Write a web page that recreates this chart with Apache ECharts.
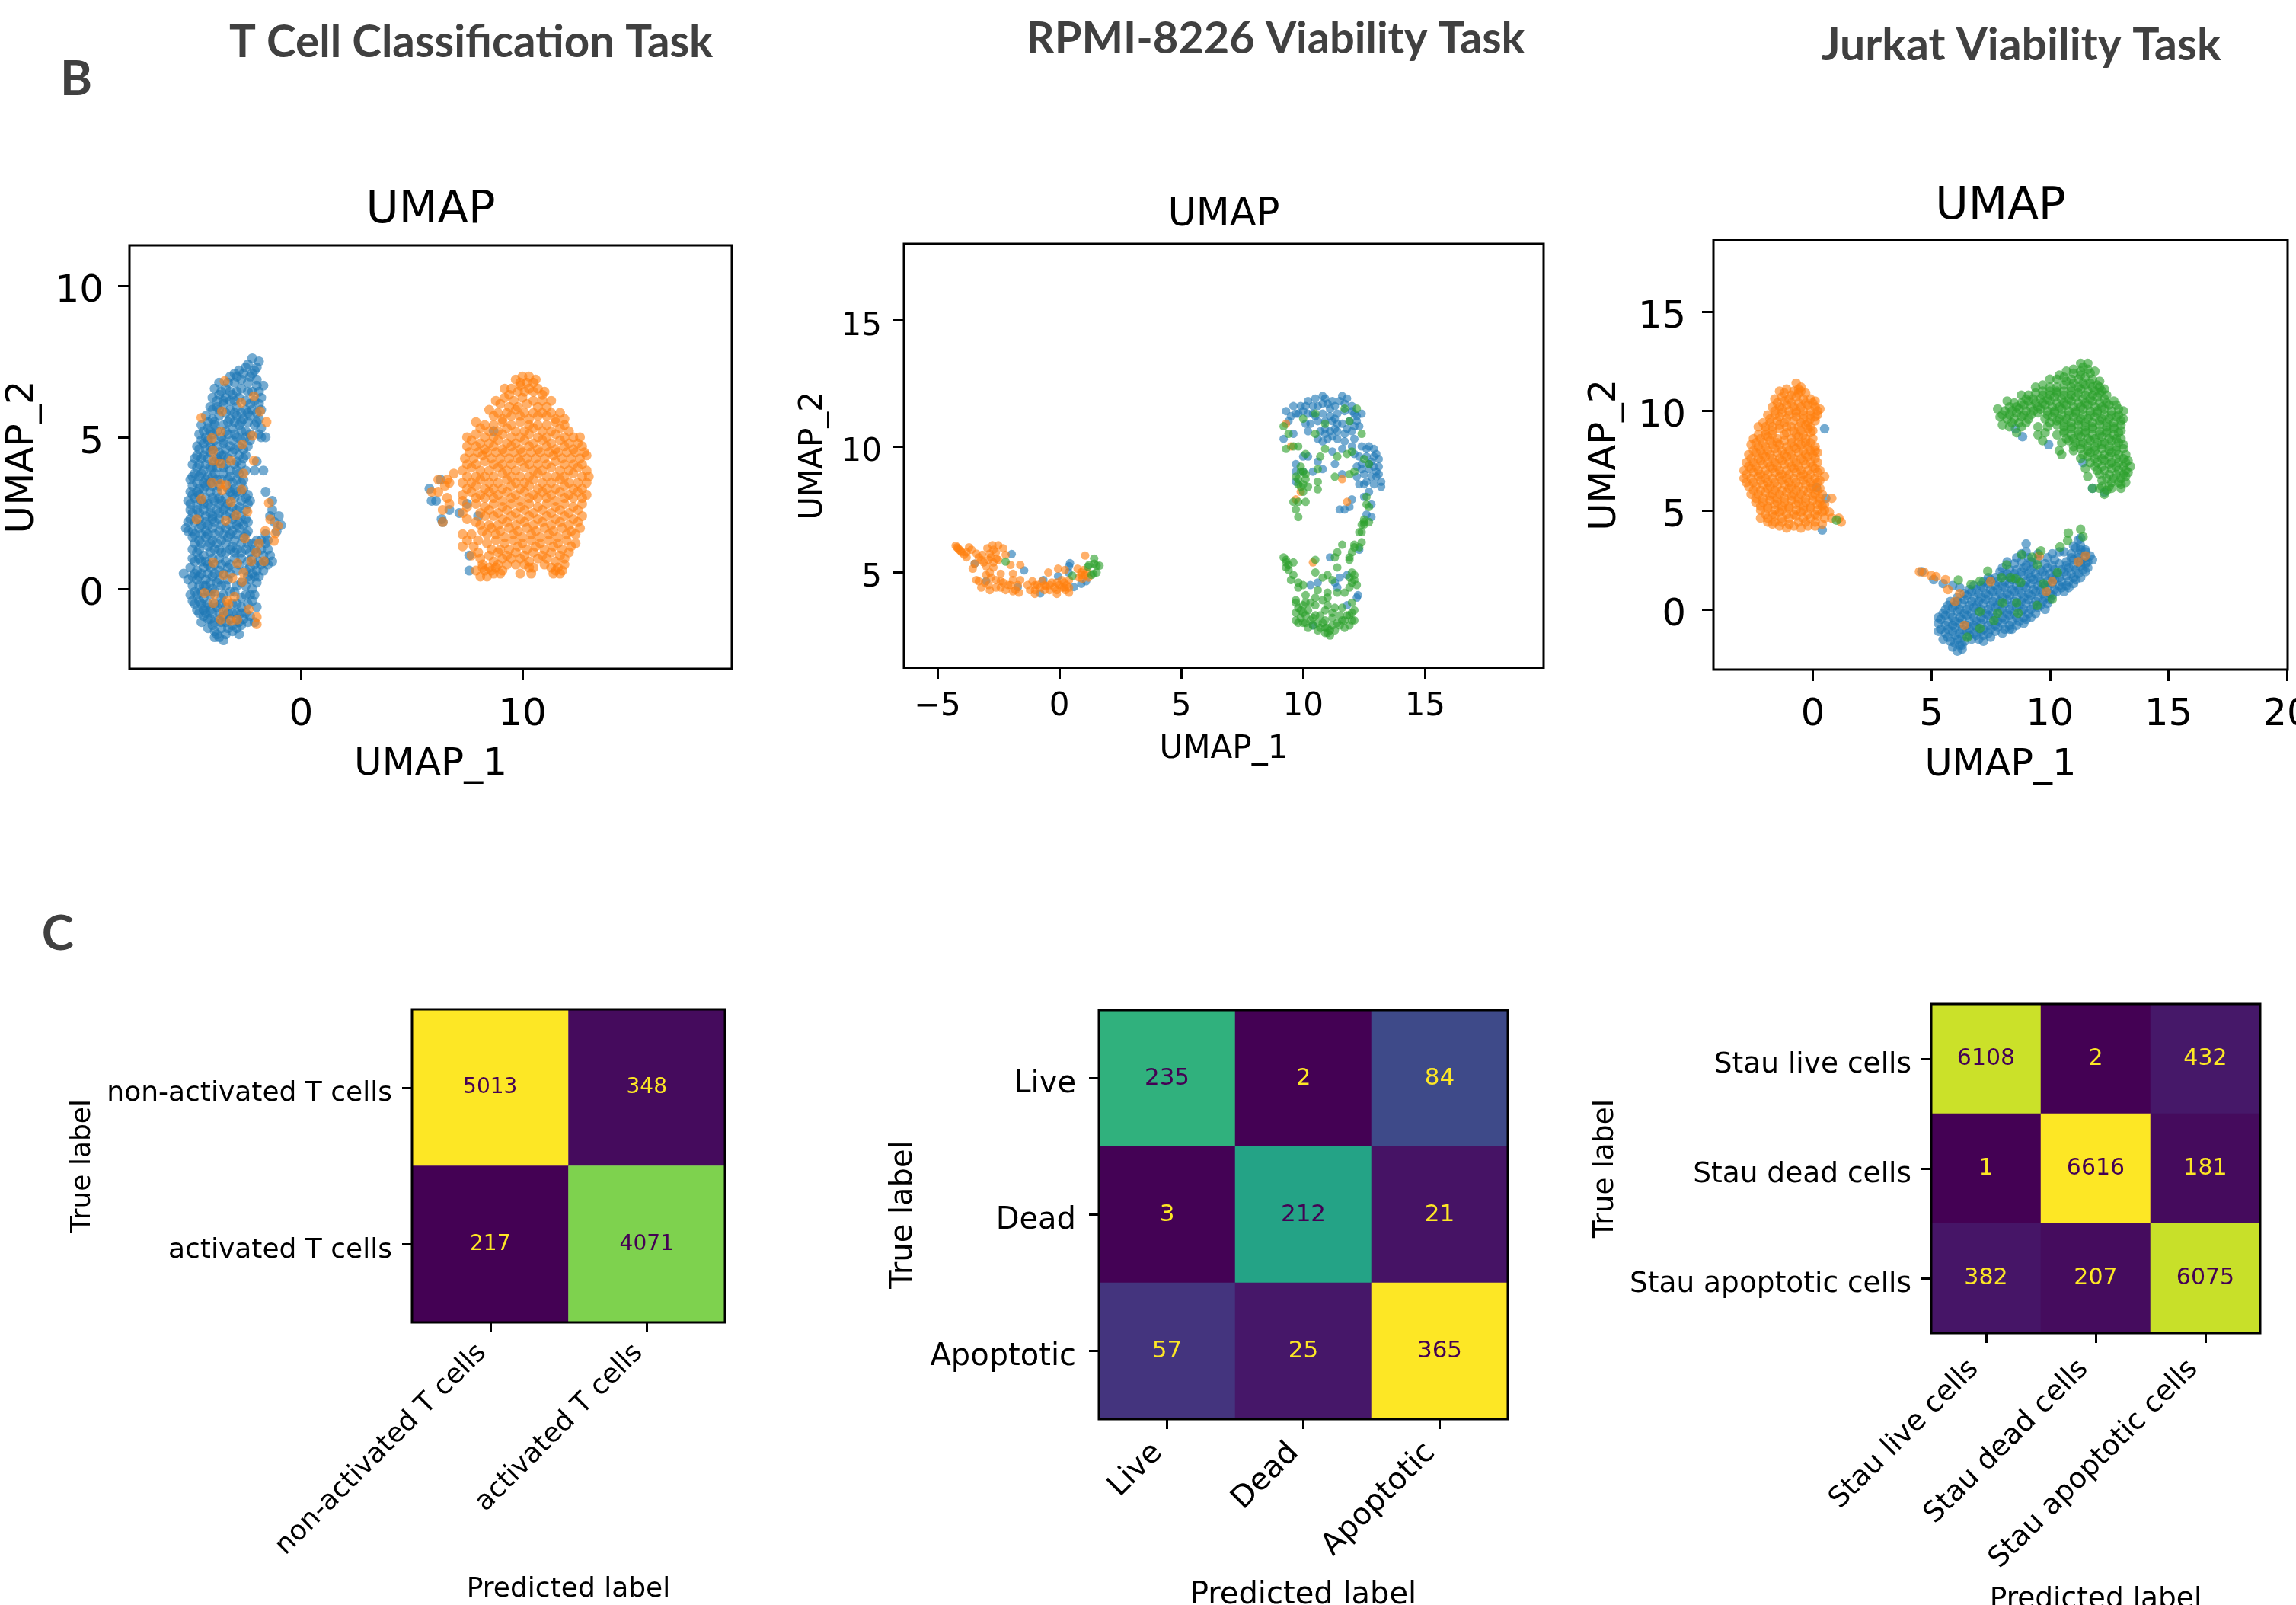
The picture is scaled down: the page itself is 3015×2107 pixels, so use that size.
<!DOCTYPE html>
<html><head><meta charset="utf-8"><style>html,body{margin:0;background:#fff}#c{width:3015px;height:2107px}</style>
<script src="https://cdn.jsdelivr.net/npm/echarts@6/dist/echarts.min.js"></script></head>
<body><div id="c"></div><script>
// ---- values: flat x,y lists ----
const tcellBlue=[-2.2,7.6,-1.9,7.5,-2.4,7.4,-2,7.3,-2.8,7.2,-2.6,7.1,-3.2,7,-2.9,7,-2.3,7,-2,6.9,-1.7,6.7,-2,6.7,-3.7,6.8,-3.4,6.6,-3.9,6.6,-3,6.8,-2.4,6.8,-2.7,6.6,-2.2,6.5,-4,6.3,-3.7,6.4,-3.4,6.3,-3.1,6.4,-2.8,6.3,-2.5,6.2,-2.1,6.2,-1.8,6.3,-4.1,6,-3.8,6,-3.5,6.1,-3.2,5.9,-2.9,6,-2.5,5.9,-2.2,5.9,-1.8,5.9,-4.3,5.7,-4,5.6,-3.7,5.7,-3.2,5.6,-2.9,5.7,-2.6,5.6,-2.3,5.7,-1.9,5.6,-4.5,5.4,-4.2,5.3,-3.9,5.4,-3.5,5.4,-3.1,5.3,-2.8,5.4,-2.5,5.2,-2.1,5.4,-1.8,5.3,-4.6,5.1,-4.3,5,-4,5.1,-3.6,5,-3.3,5.1,-2.9,5,-2.5,5,-1.9,5.1,-1.6,5,-4.7,4.7,-4.4,4.8,-4.1,4.7,-3.8,4.7,-3.5,4.8,-3.2,4.7,-2.8,4.7,-2.4,4.7,-4.7,4.4,-4.4,4.4,-4.1,4.5,-3.8,4.3,-3.5,4.4,-3.1,4.5,-2.8,4.4,-2.5,4.4,-4.9,4.1,-4.6,4.1,-4.3,4.1,-4,4,-3.7,4.2,-3.4,4.1,-3,4.1,-2.7,4.1,-2,4.2,-4.8,3.8,-4.5,3.8,-4.2,3.7,-3.9,3.8,-3.5,3.8,-3.2,3.7,-2.8,3.8,-2.5,3.9,-1.7,3.9,-2.1,3.9,-5,3.6,-4.7,3.5,-4.4,3.5,-4.1,3.5,-3.8,3.6,-3.1,3.5,-2.7,3.5,-5,3.2,-4.7,3.2,-4.4,3.3,-4.1,3.2,-3.8,3.2,-3.2,3.2,-2.9,3.2,-2.6,3.3,-2.4,3.1,-5.1,2.9,-4.8,3,-4.5,2.9,-4.2,2.8,-3.9,2.9,-3.6,2.9,-3.3,2.8,-3,3,-2.7,2.9,-2.3,2.9,-1.6,3.2,-1.3,2.9,-5,2.6,-4.7,2.6,-4.4,2.6,-4.1,2.5,-3.8,2.6,-3.5,2.6,-3.2,2.5,-2.9,2.6,-2.5,2.6,-1.3,2.6,-1,2.4,-5,2.3,-4.6,2.3,-4.3,2.2,-4,2.3,-3.7,2.3,-3.1,2.3,-2.8,2.2,-2.5,2.3,-1.2,2.2,-1.4,2.4,-0.9,2.1,-5.2,2,-4.9,1.9,-4.6,2,-4.3,1.9,-4,2,-3.7,1.9,-3.4,2,-3.1,1.9,-2.8,2,-2.4,1.9,-1.1,1.9,-1.6,1.8,-4.9,1.7,-4.6,1.6,-4.3,1.7,-4,1.6,-3.6,1.6,-3.3,1.7,-3,1.6,-2.6,1.7,-2.2,1.5,-1.6,1.5,-4.9,1.3,-4.6,1.3,-4.2,1.4,-3.9,1.3,-3.6,1.2,-3.2,1.3,-2.9,1.3,-2.5,1.3,-2.1,1.3,-1.8,1.3,-1.5,1.3,-4.9,1,-4.6,1,-4.3,.9,-4,1,-3.7,1,-3.4,.9,-3,1,-2.7,1,-2.2,1,-1.9,.9,-1.6,.9,-1.3,.9,-5,.7,-4.7,.6,-4.4,.7,-4.1,.7,-3.7,.6,-3.3,.7,-2.9,.6,-2.3,.7,-2,.6,-1.7,.6,-5.3,.5,-4.9,.4,-4.6,.4,-4.3,.3,-4,.4,-3.7,.3,-3.3,.3,-2.4,.4,-2.1,.4,-4.9,.1,-4.6,.1,-4.3,.1,-4,0,-3.6,.1,-2.9,.1,-2.5,.1,-2.2,0,-2,.2,-5,-.2,-4.7,-.2,-4.4,-.3,-4.1,-.2,-3.5,-.2,-3.2,-.1,-2.7,-.3,-2.3,-.2,-4.8,-.5,-4.5,-.5,-4.2,-.5,-3.6,-.5,-3.1,-.5,-2.7,-.6,-2.4,-.5,-2,-.6,-4.6,-.8,-4.3,-.8,-4,-.8,-3.7,-.8,-3.3,-.8,-2.9,-.8,-2.5,-.8,-4.5,-1.1,-4.2,-1,-3.9,-1.1,-3.4,-1.1,-2.8,-1.1,-2.1,-1.1,-4.2,-1.3,-3.9,-1.4,-3.6,-1.3,-3.3,-1.3,-2.9,-1.3,-2.8,-1.5,-3.7,-1.6,-3.5,-1.7,-3.9,-1.6,
5.8,3.3,5.9,2.9,6.1,2.9,6.4,2.2,6.35,2.3,6.7,2.6,6.3,3.6,7.15,2.5,7.5,2.8,8,2.4,7.6,1.1,7.6,.6,8.7,5.2,
-2.1,7.2,-2.5,7.3,-2.2,7.1,-3,7.1,-2.7,6.9,-3.3,6.8,-1.9,6.5,-3.6,6.5,-2.9,6.5,-3.2,6.5,-2.4,6.5,-3.8,6.2,-3.5,6.2,-3.2,6.2,-3,6.2,-2.3,6.1,-1.9,6.1,-4,5.9,-3.7,5.9,-3.4,5.8,-3,5.8,-2.7,5.8,-2.4,5.8,-2,5.8,-4.2,5.5,-3.9,5.5,-3.3,5.5,-3,5.5,-2.7,5.5,-2.4,5.5,-2,5.5,-4.4,5.2,-4.1,5.2,-3.8,5.2,-3.4,5.2,-3,5.1,-2.7,5.2,-2.3,5.1,-1.8,5,-4.5,4.9,-4.2,4.9,-3.9,4.9,-3.5,4.9,-3.1,4.9,-2.7,4.9,-2.3,4.9,-4.6,4.6,-4.3,4.6,-4,4.6,-3.7,4.5,-3.4,4.6,-3,4.6,-2.6,4.6,-4.8,4.3,-4.5,4.3,-4.2,4.3,-3.9,4.2,-3.6,4.4,-3.3,4.3,-2.9,4.2,-2.6,4.3,-4.7,4,-4.4,3.9,-4.1,4,-3.8,4,-3.5,4,-3.2,3.9,-2.9,3.9,-4.9,3.7,-4.6,3.7,-4.3,3.6,-4,3.7,-3.6,3.6,-3.3,3.6,-2.9,3.6,-2.6,3.6,-4.9,3.4,-4.6,3.3,-4.3,3.4,-4,3.4,-3.7,3.4,-3.3,3.3,-3,3.3,-2.7,3.2,-4.9,3.1,-4.6,3.1,-4.3,3,-4,3,-3.7,3,-3.4,3,-3.1,3.1,-2.5,3,-5,2.8,-4.7,2.8,-4.4,2.8,-4.1,2.7,-3.7,2.8,-3.4,2.7,-3.1,2.7,-2.8,2.7,-2.4,2.8,-4.9,2.5,-4.6,2.5,-4.3,2.4,-4,2.4,-3.7,2.5,-3.4,2.4,-3,2.4,-2.7,2.4,-5.1,2.2,-4.8,2.2,-4.5,2.1,-4.2,2.1,-3.9,2.2,-3.6,2.1,-3.2,2.1,-2.9,2.1,-2.6,2.1,-2.4,2.2,-5.1,1.9,-4.8,1.8,-4.5,1.8,-4.2,1.8,-3.9,1.8,-3.5,1.8,-3.2,1.8,-2.9,1.8,-2.5,1.8,-4.8,1.5,-4.5,1.5,-4.1,1.5,-3.8,1.5,-3.4,1.5,-3.1,1.4,-2.7,1.5,-2.4,1.5,-2,1.6,-1.8,1.6,-1.5,1.6,-4.7,1.2,-4.4,1.1,-4.1,1.2,-3.7,1.3,-3.4,1.2,-3,1.2,-2.7,1.2,-2.3,1.2,-2,1.2,-1.7,1.1,-1.4,1.1,-4.8,.9,-4.5,.9,-4.2,.8,-3.9,.8,-3.6,.8,-3.2,.8,-2.8,.8,-2.4,.9,-2.1,.8,-1.8,.8,-1.5,.8,-4.8,.5,-4.5,.5,-4.2,.5,-3.9,.5,-3.5,.5,-3.2,.5,-2.5,.6,-2.2,.5,-1.9,.4,-5.1,.3,-4.7,.3,-4.4,.1,-4.1,.2,-3.8,.2,-3.4,.1,-2.7,.2,-2.3,.3,-4.8,-.1,-4.5,-.1,-4.2,-.1,-3.9,-.1,-3.6,-.3,-3,-.1,-2.5,-.2,-2.1,-.2,-4.9,-.4,-4.6,-.4,-4.3,-.6,-3.9,-.5,-3.4,-.6,-2.9,-.5,-2.2,-.4,-4.7,-.7,-4.4,-.7,-4.1,-.7,-3.8,-.6,-3.5,-.9,-3.1,-.8,-2.7,-.8,-2.3,-.9,-4.4,-.9,-4.1,-1,-3.7,-1,-3.2,-1,-2.9,-1,-2.6,-1,-2.4,-1.1,-4,-1.2,-3.6,-1.1,-3.1,-1.2,-2.7,-1.2,-3.8,-1.5,-3.4,-1.5,-3.1,-1.4];
const tcellOrange=[9.7,6.9,10,7,10.3,7,10.6,6.9,9.2,6.6,9.5,6.6,9.9,6.7,10.3,6.6,10.7,6.6,11,6.5,8.8,6.2,9.2,6.3,9.6,6.2,10,6.3,10.5,6.2,10.9,6.2,11.3,6.2,8.5,5.9,8.9,5.8,9.3,5.8,9.7,5.9,10.1,5.8,10.5,5.8,10.9,5.8,11.3,5.8,11.7,5.8,7.9,5.5,8.3,5.4,8.7,5.4,9.1,5.5,9.5,5.4,9.9,5.5,10.3,5.4,10.7,5.4,11.1,5.4,11.5,5.5,11.9,5.4,7.5,5,7.9,5.1,8.3,5,8.7,5,9.1,5.1,9.5,5,9.9,5,10.3,5.1,10.7,5,11.1,5,11.5,5.1,11.9,5,12.3,5,12.6,5,7.5,4.7,7.9,4.7,8.3,4.6,8.7,4.7,9.1,4.6,9.5,4.7,9.9,4.6,10.3,4.7,10.7,4.6,11.1,4.7,11.5,4.6,11.9,4.7,12.3,4.6,12.7,4.7,7.4,4.3,7.8,4.3,8.2,4.4,8.6,4.3,9,4.3,9.4,4.3,9.8,4.3,10.2,4.3,10.6,4.3,11,4.3,11.4,4.4,11.8,4.3,12.2,4.3,12.6,4.3,12.9,4.4,7.3,3.9,7.7,4,8.1,3.9,8.5,3.9,8.9,4,9.3,3.9,9.7,3.9,10.1,4,10.5,3.9,10.9,3.9,11.3,4,11.7,3.9,12.1,3.9,12.5,4,12.9,3.9,13,3.7,7.3,3.5,7.7,3.5,8.1,3.6,8.5,3.5,8.9,3.5,9.3,3.6,9.7,3.5,10.1,3.5,10.5,3.6,10.9,3.5,11.3,3.5,11.7,3.6,12.1,3.5,12.5,3.5,12.9,3.5,7.3,3.1,7.7,3.2,8.1,3.1,8.5,3.2,8.9,3.1,9.3,3.2,9.7,3.1,10.1,3.2,10.5,3.1,10.9,3.2,11.3,3.1,11.7,3.2,12.1,3.1,12.5,3.2,12.9,3.1,7.5,2.7,7.9,2.8,8.3,2.7,8.7,2.8,9.1,2.7,9.5,2.8,9.9,2.7,10.3,2.8,10.7,2.7,11.1,2.8,11.5,2.7,11.9,2.8,12.3,2.7,12.7,2.8,7.5,2.3,7.9,2.2,8.3,2.4,8.7,2.4,9.1,2.3,9.5,2.4,9.9,2.3,10.3,2.4,10.7,2.3,11.1,2.4,11.5,2.3,11.9,2.4,12.3,2.3,12.7,2.4,7.3,1.8,7.7,1.8,8.2,1.9,8.6,2,9,1.9,9.4,2,9.8,1.9,10.2,2,10.6,1.9,11,2,11.4,1.9,11.8,2,12.2,1.9,12.6,2,7.3,1.4,7.8,1.4,8.4,1.5,8.8,1.6,9.2,1.5,9.6,1.6,10,1.5,10.4,1.6,10.8,1.5,11.2,1.6,11.6,1.5,12,1.6,12.4,1.5,7.7,1.1,8.1,1,8.5,1.1,8.9,1.2,9.3,1.1,9.7,1.2,10.1,1.1,10.5,1.2,10.9,1.1,11.3,1.2,11.7,1.1,12.1,1.2,7.9,.6,8.2,.7,8.5,.7,8.9,.8,9.3,.8,9.7,.8,10.1,.8,10.5,.7,11,.8,11.3,.7,11.6,.7,11.9,.8,8.1,.4,8.4,.4,8.7,.5,9,.5,9.9,.5,10.4,.5,11.4,.5,11.7,.5,6.2,3.6,6.6,3.6,6.9,3.8,6.7,3.5,6.2,3.2,6.6,3,5.9,3.2,6.4,2.6,6.7,2.8,6.5,3.4,6.4,2.2,
9.9,6.8,10.2,6.8,10.5,6.8,9.4,6.4,9.8,6.5,10.1,6.5,10.5,6.5,10.9,6.4,9,6.1,9.4,6,9.8,6,10.2,6.1,10.7,6,11.1,6,8.7,5.7,9.1,5.6,9.5,5.7,9.9,5.7,10.3,5.6,10.7,5.7,11.1,5.7,11.5,5.6,11.9,5.6,8.1,5.3,8.5,5.2,8.9,5.2,9.3,5.3,9.7,5.2,10.1,5.2,10.5,5.3,10.9,5.2,11.3,5.2,11.7,5.3,12.1,5.2,7.7,4.9,8.1,4.8,8.5,4.8,8.9,4.9,9.3,4.8,9.7,4.8,10.1,4.9,10.5,4.8,10.9,4.9,11.3,4.8,11.7,4.9,12.1,4.8,12.5,4.8,7.6,4.5,8,4.5,8.4,4.5,8.8,4.5,9.2,4.5,9.6,4.5,10,4.5,10.4,4.5,10.8,4.5,11.2,4.5,11.6,4.5,12,4.5,12.4,4.5,12.8,4.5,7.5,4.1,7.9,4.1,8.3,4.2,8.7,4.1,9.1,4.1,9.5,4.1,9.9,4.2,10.3,4.1,10.7,4.1,11.1,4.1,11.5,4.2,11.9,4.1,12.3,4.1,12.7,4.1,7.5,3.7,7.9,3.7,8.3,3.7,8.7,3.7,9.1,3.8,9.5,3.7,9.9,3.7,10.3,3.7,10.7,3.8,11.1,3.7,11.5,3.7,11.9,3.7,12.3,3.8,12.7,3.7,7.5,3.3,7.9,3.4,8.3,3.3,8.7,3.3,9.1,3.3,9.5,3.4,9.9,3.3,10.3,3.4,10.7,3.3,11.1,3.3,11.5,3.3,11.9,3.4,12.3,3.3,12.7,3.3,7.3,2.9,7.9,3,8.3,3,8.7,3,9.1,2.9,9.5,3,9.9,2.9,10.3,3,10.7,3,11.1,3,11.5,2.9,11.9,3,12.3,3,12.7,3,7.3,2.5,8.1,2.5,8.5,2.6,8.9,2.5,9.3,2.6,9.7,2.5,10.1,2.6,10.5,2.5,10.9,2.6,11.3,2.5,11.7,2.6,12.1,2.5,12.5,2.6,8.1,2.1,8.5,2.1,8.9,2.1,9.3,2.2,9.7,2.1,10.1,2.2,10.5,2.1,10.9,2.2,11.3,2.1,11.7,2.2,12.1,2.1,12.5,2.2,7.5,1.6,8,1.6,8.4,1.8,8.8,1.8,9.2,1.7,9.6,1.8,10,1.7,10.4,1.8,10.8,1.7,11.2,1.8,11.6,1.7,12,1.8,12.4,1.8,8,1.2,8.6,1.3,9,1.3,9.4,1.3,9.8,1.4,10.2,1.3,10.6,1.4,11,1.3,11.4,1.4,11.8,1.3,12.2,1.4,8.2,.8,8.7,.9,9.1,1,9.5,1,9.9,1,10.3,.9,10.7,1,11.1,1,11.5,.9,11.9,1,8.3,.6,8.6,.6,8.8,.7,9.1,.6,10.3,.7,11.5,.6,11.8,.6,
-3.45,6.85,-2.7,6.14,-2.13,6.35,-1.85,5.85,-1.56,5.5,-3.57,5.85,-4.5,5.64,-4.03,4.97,-3.63,5.18,-2.2,5.05,-2.65,4.76,-3.97,4.55,-3.17,4.22,-3.97,4.22,-3.63,4.13,-2.6,3.8,-2.13,4.22,-4.03,3.5,-3.63,3.46,-3.4,3.42,-3.57,3.25,-2.68,3.27,-4.5,2.96,-3.17,2.86,-1.45,2.83,-4.72,2.29,-3.4,2.25,-2.42,2.54,-2.94,2.42,-1.39,2.29,-1.05,2.08,-1.62,1.91,-1.16,1.83,-2.54,1.66,-1.9,1.5,-1.22,1.58,-2.02,1.2,-1.68,.91,-2.25,.91,-2.88,.84,-3.97,.87,-3.5,.45,-3.1,.36,-2.65,.24,-2.6,.53,-4.37,-.14,-3.91,-.18,-3,-.26,-3.34,-.39,-3.97,-.47,-3.28,-.51,-3.5,-.77,-2.36,-.68,-2,-.93,-3.63,-1.02,-3.17,-1.06,-2.88,-1.02,-2,-1.17];
const rpmiBlue=[9.3,11.4,9.6,11.6,9.9,11.6,10.2,11.8,10.5,11.9,10.8,12,10.9,11.9,11.2,11.8,11.5,11.8,11.6,12,11.8,11.9,12,11.6,12.4,11.3,12.1,11.3,11.7,11.4,11.4,11.3,11.1,11.5,10.8,11.7,10.4,11.6,10.2,11.3,10.3,10.9,10.6,11,10.9,11,11.2,11,11.4,10.9,11.6,10.9,11.9,11,12.2,11,12.3,10.8,12,10.6,11.7,10.5,11.4,10.6,11.1,10.6,10.7,10.6,10.2,10.6,9.2,10.3,9.6,10.5,12.1,10.3,12,10,11.7,10.2,11.4,10.3,11,10.3,10.8,10.2,12.4,10,12.7,10,12.9,9.9,13,9.7,13.1,9.5,13.1,9.2,12.8,9.4,12.6,9.6,12.3,9.6,12.2,9.2,12.4,9.3,12.7,9.1,13,9,13,8.8,13.2,8.6,13.2,8.4,12.9,8.5,12.6,8.6,12.3,8.5,12.2,8.8,12.5,8.9,12.8,8.8,12.7,8.2,9.7,9.3,10,9.6,10.2,9.6,10.6,9.4,10.8,9.1,10.4,9,10,9,9.7,9,9.7,8.6,11.3,9.3,11.6,8.9,11.2,9.8,11.6,9.9,12.1,9.7,11.5,7.5,11.7,7.5,11.9,7.6,12,7.9,12.5,8,12.8,7.7,12.8,7.2,12.6,7.3,12.3,5.9,12.25,4.1,12.2,4,11.4,4.4,11.3,4.6,10.6,4.6,10.3,4.5,11.5,4.8,11.8,4.9,11.8,3.7,10.4,2.9,11.1,5.6,
9.5,11.2,9.8,11.3,10,11.4,10.4,11.3,10.6,11.6,11,11.7,11.3,11.6,11.7,11.7,12,11.4,12.2,11.2,10.5,11.2,10.8,11.3,11.1,11.2,11.3,11.1,10.1,10.9,10.9,10.7,11.3,10.7,11.8,10.7,12.1,10.8,10.6,10.3,10.9,10.5,11.2,10.4,12.6,9.9,12.9,9.6,12.7,9.3,12.4,9.1,12.9,9.2,12.5,8.5,13.1,8.9,9.4,11,9.7,11.3,10.1,11.6,
-1.95,5.73,-1.44,5.08,-1.7,4.42,-3,4.66,-3.47,5.35,.44,5.37,.4,5.25,.38,5,-.05,4.85,.6,4.42,.9,4.55,1.1,4.65,-.65,4.7,-.78,4.17];
const rpmiOrange=[-4.25,6.06,-4.15,5.96,-4.04,5.85,-3.9,5.7,-3.7,6,-3.8,5.6,-3.4,5.75,-3.16,5.7,-2.95,5.96,-2.74,6.08,-2.5,6.08,-2.3,5.96,-2.2,5.7,-2.58,5.55,-2.85,5.75,-3.2,5.5,-3.47,5.35,-3.55,5.15,-3,5.25,-2.85,5,-3.3,4.65,-3.4,4.7,-3.05,4.6,-2.85,4.3,-2.4,4.95,-2.4,4.65,-2.6,4.7,-2.4,4.4,-2.1,4.5,-1.9,4.25,-2,5.3,-1.6,5.3,-1.9,4.95,-1.65,4.2,-1.9,4.7,-1.6,4.7,-1.3,4.5,-1.1,4.65,-1,4.3,-.9,4.5,-.7,4.65,-.55,4.45,-.4,4.3,-.1,4.6,-.1,4.3,-.1,4.15,.2,4.6,.25,4.3,.4,4.2,-.45,5,-.05,5.15,.4,4.7,1.06,5.67,.75,5.15,.9,5,.8,4.8,1.2,4.8,1.05,4.9,.23,5.1,-1,4.15,-1.2,4.3,-4.2,6,-4.1,5.9,-2.7,5.4,-2.9,5.5,-.6,4.3,.1,4.4,
-4,5.8,-3.8,5.8,-3.6,5.9,-3.3,5.6,-3.1,5.4,-2.7,5.9,-2.6,5.8,-2.8,5.6,-2.5,5.5,-2.7,5.2,-3,4.9,-2.8,4.8,-3.2,4.4,-2.9,4.5,-2.6,4.4,-2.3,4.6,-2.2,4.3,-2,4.5,-1.7,4.5,-1.8,4.3,-1,4.5,-.8,4.4,-.6,4.5,-.4,4.5,-.3,4.6,-.2,4.4,0,4.5,.1,4.7,.2,4.4,.3,4.5,.4,4.4,.9,4.9,1,5.1,.95,4.75,1.15,5,
9.5,10,9.9,8.2,9.7,7.9,11.6,8.7,11.8,7.8,10.4,5.4,9.3,10.9];
const rpmiGreen=[10,11.1,10.5,11.3,10.9,10.9,11.7,11.5,12.2,11.5,11.9,11,12.4,10.5,10.5,10.5,9.2,10.8,9.4,10.5,9.8,10,9.3,9.9,9.6,10,10.9,9.9,11.4,9.6,11.8,9.7,12,9.8,10.7,9.6,10.1,9.7,9.9,9.2,10,9,9.7,8.8,9.8,8.5,10.1,8.7,10.2,8.4,9.9,8.4,10,8.2,10.6,8.6,10.6,9.1,10.6,8.3,9.8,7.8,10.1,7.8,9.7,7.5,9.8,7.2,11.3,8.8,11.9,8.9,12.1,9,12.5,9.5,12.7,9.3,12.6,8,12.6,7.7,12.7,7.6,12.5,7,12.7,7,12.4,6.9,12.4,6.6,12.3,6.6,12.4,6.2,12.3,6,12.1,6,11.6,6.1,11.4,5.8,11.3,5.6,11.9,5.6,12,5.8,11.9,5.5,9.2,5.6,9.3,5.4,9.3,5.2,9.4,5.1,9.6,5.4,9.6,4.9,9.5,4.7,10.5,5.5,10.5,5,11.4,5.2,11,4.9,10.8,4.8,11.2,4.7,12,5,12.1,4.9,12,4.6,12.2,4.5,11.9,4.8,9.8,4.4,10,4.5,9.7,3.9,9.7,3.8,10.1,3.8,10.5,4,10.6,4.3,11,4.2,11.4,4.2,11.7,4.2,11,3.7,10.9,3.5,11.6,3.6,12,3.8,12,3.4,12.1,3.1,9.7,3.4,9.7,3.1,9.9,3.2,10.1,3,10.1,3.3,10.5,3.3,10.6,3,10.7,2.8,10.9,2.6,11,2.6,11.1,2.5,11.3,2.7,11.5,2.9,11.7,2.8,11.9,2.9,12,3.1,11.8,3.3,11.5,3.3,11.2,3.2,10.9,3.1,10.4,2.9,10.2,2.8,11.3,3.6,11.2,3.4,11.6,3.1,10.5,3.7,10,3.7,
9.9,3.5,10.2,3.5,10.4,3.2,10.7,3.3,10.8,3,11,2.8,11.2,2.9,11.4,3,11.7,3.1,11.9,3.3,12.1,3.5,9.8,3.6,10,3.4,10.3,3.1,10.6,2.7,11.1,2.7,10.9,2.8,9.8,3,10,3,10.3,3.8,10.8,3.9,11,4,10.1,4.1,9.8,4.6,11.9,4.4,12.1,4.7,9.9,9,10.1,8.9,9.8,8.7,10,8.5,9.6,7.8,12.5,6.9,12.5,7.1,12.1,6.1,9.4,5.3,9.3,5.5,
-2.2,5.43,.54,4.87,1.43,5.55,1.53,5.27,1.65,5.27,1.17,5.23,1.4,4.95,1.53,5,1.32,4.9,1.22,5.3,1.43,5.35];
const jurkatBlue=[5.9,-1.9,6.1,-2.1,6.3,-2,6.2,-1.8,5.5,-1.5,5.8,-1.6,6.1,-1.5,6.4,-1.6,6.7,-1.5,7,-1.5,7.2,-1.6,5.3,-1.1,5.6,-1.2,5.9,-1.1,6.2,-1.2,6.5,-1.1,6.8,-1.2,7.1,-1.1,7.4,-1.2,7.7,-1.1,8,-1.2,8.3,-1,5.3,-.7,5.6,-.8,5.9,-.8,6.2,-.7,6.5,-.8,6.8,-.8,7.1,-.7,7.4,-.8,7.7,-.8,8,-.7,8.3,-.8,8.6,-.8,8.9,-.7,5.3,-.4,5.6,-.3,5.9,-.4,6.2,-.4,6.5,-.3,6.8,-.4,7.1,-.4,7.4,-.3,7.7,-.4,8,-.4,8.3,-.3,8.6,-.4,8.9,-.4,9.2,-.4,5.6,0,5.9,.1,6.2,0,6.5,0,6.8,.1,7.1,0,7.4,0,7.7,.1,8,0,8.3,0,8.6,.1,8.9,0,9.2,0,9.5,.1,9.8,0,5.8,.4,6.1,.4,6.4,.5,6.7,.4,7,.4,7.3,.5,7.6,.4,7.9,.4,8.2,.5,8.5,.4,8.8,.4,9.1,.5,9.4,.4,9.7,.4,10,.5,6.4,.8,6.7,.9,7,.8,7.3,.8,7.6,.9,7.9,.8,8.2,.8,8.5,.9,8.8,.8,9.1,.8,9.4,.9,9.7,.8,10,.8,10.3,.9,10.6,.9,6.8,1.2,7.1,1.2,7.4,1.3,7.7,1.2,8,1.2,8.3,1.3,8.6,1.2,8.9,1.2,9.2,1.3,9.5,1.2,9.8,1.2,10.1,1.3,10.4,1.2,10.7,1.2,11,1.3,7.4,1.6,7.7,1.6,8,1.7,8.3,1.6,8.6,1.6,8.9,1.7,9.2,1.6,9.5,1.6,9.8,1.7,10.1,1.6,10.4,1.6,10.7,1.7,11,1.6,11.3,1.6,8,2.1,8.3,2,8.6,2,8.9,2.1,9.2,2,9.6,2,9.9,2.1,10.2,2,10.5,2,10.8,2.1,11.1,2,11.4,2,11.6,2.1,8.2,2.4,8.8,2.4,9.2,2.4,9.5,2.5,10.7,2.4,11,2.5,11.3,2.4,11.6,2.4,11.8,2.5,8.8,2.8,9,2.9,10.1,2.8,10.4,2.9,10.9,2.8,11.2,2.8,11.5,2.9,9,3.3,11,3.2,11.3,3.2,11.5,3,11.2,3.5,11.3,3.6,4.6,1.9,5.1,1.5,5.5,1.3,5.9,1.2,6.2,1.1,8.85,8.7,9.95,8.3,11.4,7.4,11.8,6.1,12.3,5.9,8.55,9.1,.5,9.1,.4,4,.15,6.15,.55,5.6,
6,-1.7,6.3,-1.8,5.7,-1.4,6,-1.3,6.3,-1.4,6.6,-1.3,6.9,-1.3,7.2,-1.3,7.5,-1.4,5.4,-1,5.7,-1,6,-.9,6.3,-1,6.6,-1,6.9,-.9,7.2,-1,7.5,-1,7.8,-.9,8.1,-1,8.4,-1,5.4,-.5,5.7,-.6,6,-.6,6.3,-.5,6.6,-.6,6.9,-.6,7.2,-.5,7.5,-.6,7.8,-.6,8.1,-.5,8.4,-.6,8.7,-.6,9,-.5,5.5,-.2,5.8,-.2,6.1,-.1,6.4,-.2,6.7,-.2,7,-.1,7.3,-.2,7.6,-.2,7.9,-.1,8.2,-.2,8.5,-.2,8.8,-.1,9.1,-.2,9.4,-.2,5.7,.2,6,.2,6.3,.3,6.6,.2,6.9,.2,7.2,.3,7.5,.2,7.8,.2,8.1,.3,8.4,.2,8.7,.2,9,.3,9.3,.2,9.6,.2,9.9,.3,6.1,.6,6.5,.7,6.8,.6,7.1,.6,7.4,.7,7.7,.6,8,.6,8.3,.7,8.6,.6,8.9,.6,9.2,.7,9.5,.6,9.8,.6,10.1,.7,6.6,1,6.9,1,7.2,1.1,7.5,1,7.8,1,8.1,1.1,8.4,1,8.7,1,9,1.1,9.3,1,9.6,1,9.9,1.1,10.2,1,10.5,1.1,10.8,1.1,7.2,1.4,7.5,1.5,7.8,1.4,8.1,1.4,8.4,1.5,8.7,1.4,9,1.4,9.3,1.5,9.6,1.4,9.9,1.4,10.2,1.5,10.5,1.4,10.8,1.4,11.1,1.5,7.9,1.9,8.2,1.8,8.5,1.8,8.8,1.9,9.1,1.8,9.4,1.8,9.7,1.9,10,1.8,10.3,1.8,10.6,1.9,10.9,1.8,11.2,1.8,11.5,1.9,8.5,2.3,9,2.2,9.3,2.2,9.8,2.3,10.1,2.2,10.4,2.3,10.7,2.2,11,2.2,11.3,2.2,11.5,2.3,8.6,2.6,9.1,2.6,9.9,2.6,10.2,2.5,10.9,2.6,11.2,2.6,11.5,2.6,11.7,2.7,9.5,2.8,10.6,2.9,11.3,3,11.1,3.1];
const jurkatOrange=[-.7,11.4,-.5,11.2,-1.4,11,-1.1,11.1,-.8,11,-.5,11,-.3,10.9,-1.6,10.6,-1.3,10.7,-1,10.6,-.7,10.7,-.4,10.6,-.1,10.6,.1,10.5,-1.7,10.2,-1.4,10.2,-1.1,10.3,-.8,10.2,-.5,10.2,-.2,10.3,.1,10.2,.3,10.1,-1.9,9.8,-1.6,9.8,-1.3,9.9,-1,9.8,-.7,9.9,-.4,9.8,-.1,9.8,.2,9.8,-2.1,9.4,-1.8,9.4,-1.5,9.5,-1.2,9.4,-.8,9.5,-.5,9.4,-.2,9.4,.1,9.5,-2.3,9.2,-2,9,-1.7,9,-1.4,9.1,-.8,9,-.5,9,-.2,9.1,0,9,-2.5,8.6,-2.2,8.6,-1.9,8.7,-1.5,8.6,-.9,8.6,-.6,8.7,-.3,8.6,0,8.6,-2.6,8.3,-2.3,8.2,-2,8.2,-1.7,8.3,-1.4,8.3,-1.1,8.2,-.8,8.2,-.5,8.3,-.2,8.2,.1,8.2,-2.7,7.8,-2.4,7.9,-2.1,7.8,-1.8,7.8,-1.5,7.9,-1.2,7.8,-.9,7.8,-.6,7.9,-.3,7.8,0,7.8,.2,7.9,-2.8,7.4,-2.5,7.4,-2.2,7.5,-1.9,7.4,-1.6,7.4,-1.3,7.5,-1,7.4,-.7,7.4,-.4,7.5,-.1,7.4,.2,7.4,-2.9,7,-2.6,7.1,-2.3,7,-2,7,-1.7,7.1,-1.4,7,-1.1,7,-.8,7.1,-.5,7,-.2,7,.1,7.1,.3,7,.5,6.7,-2.9,6.6,-2.6,6.6,-2.3,6.7,-2,6.6,-1.7,6.6,-1.4,6.7,-1.1,6.6,-.8,6.6,-.5,6.7,-.2,6.6,.1,6.6,.3,6.5,-2.7,6.2,-2.4,6.2,-2.1,6.3,-1.8,6.2,-1.5,6.2,-1.2,6.3,-.9,6.2,-.6,6.2,-.3,6.3,0,6.2,.3,6.1,-2.6,5.8,-2.3,5.8,-2,5.9,-1.7,5.8,-1.4,5.8,-1.1,5.9,-.8,5.8,-.5,5.8,-.2,5.9,.1,5.8,.4,5.8,.8,5.6,-2.4,5.4,-2.1,5.4,-1.8,5.5,-1.5,5.4,-1.2,5.4,-.9,5.5,-.6,5.4,-.3,5.4,0,5.5,.3,5.4,.5,5.3,-2.2,5,-1.9,5.1,-1.6,5,-1.3,5,-1,5.1,-.7,5,-.4,5,-.1,5.1,.2,5,.5,5,.7,4.9,-2.2,4.6,-1.9,4.6,-1.6,4.7,-1.3,4.6,-1,4.6,-.7,4.7,-.4,4.6,-.1,4.6,.2,4.7,.5,4.6,.8,4.6,1.1,4.6,1.2,4.4,-1.7,4.3,-1.4,4.2,-1.1,4.1,-.8,4.2,-.5,4.1,-.2,4.2,.1,4.2,
-.6,11.1,-1.2,10.9,-.9,10.8,-.6,10.9,-1.5,10.4,-1.2,10.5,-.9,10.4,-.6,10.4,-.3,10.4,0,10.4,-1.6,10,-1.3,10.1,-1,10,-.7,10,-.4,10,-.1,10,.2,10,-1.8,9.6,-1.4,9.7,-1.1,9.6,-.7,9.7,-.4,9.6,-.1,9.6,.1,9.7,-2,9.2,-1.7,9.2,-1.4,9.3,-.9,9.2,-.6,9.2,-.3,9.3,-.1,9.2,-2.3,8.8,-2,8.8,-1.7,8.8,-.7,8.8,-.4,8.8,-.1,8.9,-2.4,8.4,-2.1,8.4,-1.8,8.5,-1.5,8.4,-1.2,8.5,-.9,8.4,-.6,8.4,-.3,8.4,-.1,8.4,-2.5,8,-2.2,8,-1.9,8,-1.6,8.1,-1.3,8,-1,8,-.7,8.1,-.4,8,-.1,8,.1,8,-2.6,7.6,-2.3,7.6,-2,7.7,-1.7,7.6,-1.4,7.6,-1.1,7.7,-.8,7.6,-.5,7.6,-.2,7.7,.1,7.6,-2.7,7.2,-2.4,7.2,-2.1,7.3,-1.8,7.2,-1.5,7.2,-1.2,7.3,-.9,7.2,-.6,7.2,-.3,7.3,0,7.2,-2.8,6.8,-2.5,6.9,-2.2,6.8,-1.9,6.8,-1.6,6.9,-1.3,6.8,-1,6.8,-.7,6.9,-.4,6.8,-.1,6.8,.2,6.9,-2.8,6.4,-2.5,6.4,-2.2,6.5,-1.9,6.4,-1.6,6.4,-1.3,6.5,-1,6.4,-.7,6.4,-.4,6.5,-.1,6.4,.2,6.4,-2.5,6,-2.2,6,-1.9,6.1,-1.6,6,-1.3,6,-1,6.1,-.7,6,-.4,6,-.1,6.1,.2,6,-2.4,5.6,-2.1,5.6,-1.8,5.7,-1.5,5.6,-1.2,5.6,-.9,5.7,-.6,5.6,-.3,5.6,0,5.7,.3,5.6,-2.2,5.2,-1.9,5.2,-1.6,5.3,-1.3,5.2,-1,5.2,-.7,5.3,-.4,5.2,-.1,5.2,.2,5.3,.4,5.2,-2,4.8,-1.7,4.8,-1.4,4.9,-1.1,4.8,-.8,4.8,-.5,4.9,-.2,4.8,.1,4.8,.4,4.9,-1.9,4.4,-1.6,4.4,-1.3,4.4,-1,4.3,-.6,4.4,-.3,4.4,.1,4.4,.4,4.3,-1.1,8.9,-1.2,8.8,-1.1,9.2,
4.5,1.9,5,1.7,5.2,1.65,4.7,1.87,5.6,1.5,5.7,1,6.2,.8,6,.4,6.4,-.8,7.5,1.4,9.55,2.7,11.2,2.4,11.5,2.7,9.85,.9,10.1,1.4];
const jurkatGreen=[11.3,12.4,11.6,12.4,10.7,12,11,12.1,11.3,12,11.6,12.1,11.9,12,10,11.6,10.3,11.6,10.6,11.7,10.9,11.6,11.2,11.6,11.5,11.7,11.8,11.6,12.1,11.5,9.4,11.2,9.7,11.3,10,11.2,10.3,11.2,10.6,11.3,10.9,11.2,11.2,11.2,11.5,11.3,11.8,11.2,12.1,11.2,12.3,11.1,8.8,10.8,9.1,10.8,9.4,10.9,9.7,10.8,10,10.8,10.3,10.9,10.6,10.8,10.9,10.8,11.2,10.9,11.5,10.8,11.8,10.8,12.1,10.9,12.4,10.8,8.2,10.5,8.5,10.4,8.8,10.4,9.1,10.5,9.4,10.4,9.7,10.4,10,10.5,10.3,10.4,10.6,10.4,10.9,10.5,11.2,10.4,11.5,10.4,11.8,10.5,12.1,10.4,12.4,10.4,12.7,10.5,7.8,10.1,8.1,10,8.4,10,8.7,10.1,9,10,9.3,10,9.6,10.1,9.9,10,10.2,10,10.5,10.1,10.8,10,11.1,10,11.4,10.1,11.7,10,12,10,12.3,10.1,12.6,10,12.9,10.1,13.1,10,7.9,9.7,8.2,9.6,8.5,9.6,8.8,9.7,9.1,9.6,9.8,9.6,10.1,9.7,10.4,9.6,10.7,9.6,11,9.7,11.3,9.6,11.6,9.6,11.9,9.7,12.2,9.6,12.5,9.6,12.8,9.7,13.1,9.6,8,9.3,8.3,9.2,8.8,9.2,9.5,9.2,9.9,9.2,10.3,9.3,10.6,9.2,10.9,9.2,11.2,9.3,11.5,9.2,11.8,9.2,12.1,9.3,12.4,9.2,12.7,9.2,13,9.3,8.6,8.9,9.5,8.8,9.8,8.9,10.3,8.8,10.6,8.9,10.9,8.8,11.2,8.8,11.5,8.9,11.8,8.8,12.1,8.8,12.4,8.9,12.7,8.8,12.9,8.9,9.7,8.5,10.5,8.4,10.8,8.5,11.1,8.4,11.4,8.4,11.7,8.5,12,8.4,12.3,8.4,12.6,8.5,12.9,8.4,10.4,8,10.5,7.8,11,8,11.3,8.1,11.6,8,11.9,8,12.2,8.1,12.5,8,12.8,8,13.1,8.1,11.3,7.6,11.6,7.7,11.9,7.6,12.2,7.6,12.5,7.7,12.8,7.6,13.1,7.6,13.3,7.5,11.5,7.1,11.9,7.2,12.2,7.2,12.5,7.3,12.8,7.2,13.1,7.2,13.4,7.2,11.6,6.7,12.1,6.8,12.5,6.8,12.8,6.8,13.1,6.8,13.3,6.9,12.2,6.5,12.6,6.4,12.9,6.4,13.2,6.4,13,6.3,11.8,6.1,12.1,6.1,12.4,6,12.3,5.8,12.6,6.1,
11.4,12.2,11,11.9,11.3,11.8,11.7,11.9,10.4,11.8,10.7,11.5,11,11.4,11.4,11.4,11.7,11.4,12,11.3,9.7,11,10,11,10.3,11,10.6,11,10.9,11,11.3,11.1,11.6,11,11.9,11,12.2,11,9,10.6,9.3,10.6,9.6,10.6,9.9,10.6,10.2,10.7,10.5,10.6,10.8,10.6,11.1,10.7,11.4,10.6,11.7,10.6,12,10.7,12.3,10.6,8.3,10.2,8.6,10.2,8.9,10.3,9.2,10.2,9.5,10.2,9.8,10.3,10.1,10.2,10.4,10.2,10.7,10.3,11,10.2,11.3,10.2,11.6,10.3,11.9,10.2,12.2,10.2,12.5,10.3,12.8,10.3,8,9.8,8.3,9.8,8.6,9.9,8.9,9.8,9.2,9.8,9.5,9.9,9.9,9.8,10.2,9.9,10.5,9.8,10.8,9.8,11.1,9.9,11.4,9.8,11.7,9.8,12,9.9,12.3,9.8,12.6,9.8,12.9,9.8,8.4,9.4,8.7,9.4,9,9.4,10,9.4,10.3,9.5,10.6,9.4,10.9,9.4,11.2,9.5,11.5,9.4,11.8,9.4,12.1,9.5,12.4,9.4,12.7,9.4,13,9.5,10.6,9,10.9,9.1,11.2,9,11.5,9,11.8,9.1,12.1,9,12.4,9,12.7,9.1,13,9,10.7,8.6,11,8.6,11.3,8.7,11.6,8.6,11.9,8.6,12.2,8.7,12.5,8.6,12.8,8.6,13,8.6,11,8.2,11.3,8.3,11.6,8.2,11.9,8.2,12.2,8.3,12.5,8.2,12.8,8.2,13.1,8.3,11.4,7.8,11.7,7.9,12,7.8,12.3,7.8,12.6,7.9,12.9,7.8,13.2,7.8,11.7,7.4,12,7.4,12.3,7.5,12.6,7.4,12.9,7.4,13.2,7.4,12,7,12.3,7,12.6,7.1,12.9,7,13.2,7,12.4,6.6,12.7,6.6,13,6.6,13.2,6.7,12.2,6.2,12.5,6.2,13,6.1,
10.78,3.85,11.3,4.04,11.4,3.66,10.75,3.47,10.43,3.15,8.82,2.76,9.62,2.95,9.25,2.63,9.46,2.25,8.18,2.25,7.38,1.93,8.34,1.6,7.96,1.6,8.55,1.54,8.77,1.35,6.68,1.26,6.14,1.48,7.05,1.42,10.32,1.86,9.73,1.29,10.1,.52,9.46,.2,8.6,.33,8,.33,7.05,-.12,7.64,-.57,7.05,-.96,8.66,-.19,6.52,-1.4,7.8,-.19,1,4.5];

const tcellLabels=['non-activated T cells','activated T cells'];
const tcellMatrix=[[5013,348],[217,4071]];
const rpmiLabels=['Live','Dead','Apoptotic'];
const rpmiMatrix=[[235,2,84],[3,212,21],[57,25,365]];
const jurkatLabels=['Stau live cells','Stau dead cells','Stau apoptotic cells'];
const jurkatMatrix=[[6108,2,432],[1,6616,181],[382,207,6075]];
const viridis=['#440154','#482878','#3e4989','#31688e','#26828e','#1f9e89','#35b779','#6ece58','#b5de2b','#fde725'];
const dejavu='DejaVu Sans';

const pairs=a=>{const o=[];for(let i=0;i<a.length;i+=2)o.push([a[i],a[i+1]]);return o;};
const scatters=[
 {box:[170,322,791,556],xr:[-7.75,19.46],yr:[-2.64,11.33],xt:[0,10],yt:[0,5,10],size:13,font:50,xm:36,ym:34,xg:101,yg:115,title:59,ty:277,data:[tcellBlue,tcellOrange,[]]},
 {box:[1187,320,840,556.6],xr:[-6.37,19.86],yr:[1.22,18.04],xt:[-5,0,5,10,15],yt:[5,10,15],size:11,font:42,xm:30,ym:29,xg:86,yg:98,title:51,ty:283,data:[rpmiBlue,rpmiOrange,rpmiGreen]},
 {box:[2250,315.4,754,563.6],xr:[-4.19,20.03],yr:[-3.03,18.6],xt:[0,5,10,15,20],yt:[0,5,10,15],size:12.5,font:49.5,xm:35,ym:36,xg:101,yg:117,title:59.5,ty:272,data:[jurkatBlue,jurkatOrange,jurkatGreen]}];
const heats=[
 {box:[541,1325,411,411],labels:tcellLabels,m:tcellMatrix,font:36,val:28,xg:333,yg:414,xm:24,ym:26,pad:15},
 {box:[1443,1326,537,537],labels:rpmiLabels,m:rpmiMatrix,font:40,val:31,xg:212,yg:236,xm:26,ym:30,pad:17},
 {box:[2536,1318,432,432],labels:jurkatLabels,m:jurkatMatrix,font:37.5,val:30,xg:331,yg:409,xm:26,ym:26,pad:22}];
const colors=['#1f77b4','#ff7f0e','#2ca02c'];

const grid=[],xAxis=[],yAxis=[],series=[],visualMap=[],graphic=[];
const txt=(text,x,y,size,o={})=>({type:'text',x,y,z:60,style:{text,align:'center',verticalAlign:'middle',fontFamily:o.fam||dejavu,fontWeight:o.w||'normal',fontSize:size,fill:o.c||'#000'}});
const frame=b=>({type:'rect',z:50,shape:{x:b[0],y:b[1],width:b[2],height:b[3]},style:{fill:'none',stroke:'#000',lineWidth:3}});
const tickStyle={color:'#000',width:3};
// y-axis tick text sits a little below its tick in the reference
const lowered={verticalAlign:'top',lineHeight:16};
scatters.forEach((p,i)=>{
 const [l,t,w,h]=p.box;
 grid.push({left:l,top:t,width:w,height:h,show:false,outerBoundsMode:'none'});
 const f={fontFamily:dejavu,fontSize:p.font,color:'#000'};
 xAxis.push({gridIndex:i,type:'value',min:p.xr[0],max:p.xr[1],splitLine:{show:false},axisLine:{show:false,onZero:false},
  axisTick:{show:true,length:15,lineStyle:tickStyle,customValues:p.xt},
  axisLabel:{...f,margin:p.xm,customValues:p.xt,hideOverlap:false,formatter:v=>String(v).replace('-','\u2212')},
  name:'UMAP_1',nameLocation:'middle',nameGap:p.xg,nameTextStyle:f});
 yAxis.push({gridIndex:i,type:'value',min:p.yr[0],max:p.yr[1],splitLine:{show:false},axisLine:{show:false,onZero:false},
  axisTick:{show:true,length:15,lineStyle:tickStyle,customValues:p.yt},
  axisLabel:{...f,...lowered,margin:p.ym,customValues:p.yt},
  name:'UMAP_2',nameLocation:'middle',nameGap:p.yg,nameTextStyle:f});
 p.data.forEach((d,k)=>{ if(d.length) series.push({type:'scatter',xAxisIndex:i,yAxisIndex:i,data:pairs(d),symbolSize:p.size,silent:true,itemStyle:{color:colors[k],opacity:.62,borderWidth:0}}); });
 graphic.push(frame(p.box),txt('UMAP',l+w/2,p.ty,p.title));
});
heats.forEach((p,j)=>{
 const i=j+3,[l,t,w,h]=p.box;
 grid.push({left:l,top:t,width:w,height:h,show:false,outerBoundsMode:'none'});
 const f={fontFamily:dejavu,fontSize:p.font,color:'#000'};
 xAxis.push({gridIndex:i,type:'category',data:p.labels,splitLine:{show:false},axisLine:{show:false,onZero:false},
  axisTick:{show:true,alignWithLabel:true,length:13,lineStyle:tickStyle},
  axisLabel:{...f,rotate:45,interval:0,margin:p.xm,padding:[0,p.pad,0,0]},
  name:'Predicted label',nameLocation:'middle',nameGap:p.xg,nameTextStyle:f});
 yAxis.push({gridIndex:i,type:'category',inverse:true,data:p.labels,splitLine:{show:false},axisLine:{show:false,onZero:false},
  axisTick:{show:true,alignWithLabel:true,length:13,lineStyle:tickStyle},
  axisLabel:{...f,...lowered,interval:0,margin:p.ym},
  name:'True label',nameLocation:'middle',nameGap:p.yg,nameTextStyle:f});
 const flat=p.m.flat(),mn=Math.min(...flat),mx=Math.max(...flat),mid=(mn+mx)/2;
 const data=[];
 p.m.forEach((row,r)=>row.forEach((v,c)=>data.push({value:[c,r,v],label:{color:v>=mid?'#440154':'#fde725'}})));
 visualMap.push({show:false,type:'continuous',seriesIndex:series.length,dimension:2,min:mn,max:mx,inRange:{color:viridis}});
 series.push({type:'heatmap',xAxisIndex:i,yAxisIndex:i,data,silent:true,itemStyle:{borderWidth:0},
  label:{show:true,fontFamily:dejavu,fontSize:p.val,padding:[3,0,0,0],formatter:q=>q.value[2]}});
 graphic.push(frame(p.box));
});
const head={fam:'Lato',w:'bold',c:'#404040'};
graphic.push(
 txt('T Cell Classification Task',618.6,56,58.3,head),
 txt('RPMI-8226 Viability Task',1675,51,57.8,head),
 txt('Jurkat Viability Task',2654,60,59,head),
 txt('B',100,104,64,head),
 txt('C',76,1226,64,head));

const chart=echarts.init(document.getElementById('c'),null,{renderer:'canvas',width:3015,height:2107});
chart.setOption({animation:false,backgroundColor:'#fff',grid,xAxis,yAxis,visualMap,series,graphic});
</script></body></html>
